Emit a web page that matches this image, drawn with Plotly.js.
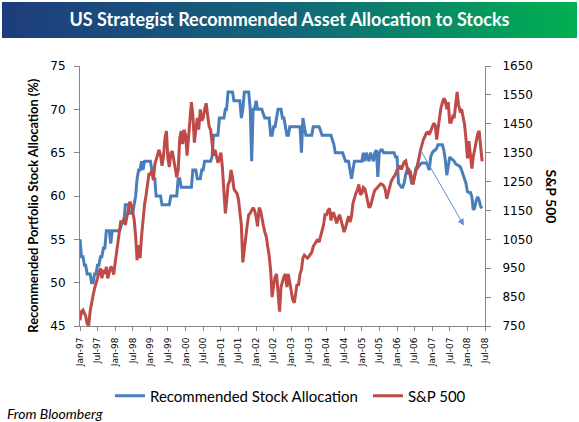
<!DOCTYPE html>
<html><head><meta charset="utf-8">
<script src="https://cdn.plot.ly/plotly-3.0.1.min.js"></script>
<style>
html,body{margin:0;padding:0;background:#fff;}
#wrap{position:relative;width:579px;height:422px;overflow:hidden;}
#banner{position:absolute;left:2px;top:2px;width:575px;height:36px;background:linear-gradient(to right,#1f3c7c 0%,#12667a 50%,#00b050 100%);}
#chart{position:absolute;left:0;top:0;width:579px;height:422px;}
</style></head><body>
<div id="wrap"><div id="banner"></div><div id="chart"></div></div>
<script>
// Semi-monthly samples (1st and 16th of each month), Jan-1997 .. Jun-2008
const startYear = 1997;
const seriesNames = ['Recommended Stock Allocation', 'S&P 500'];
const tickLabelFormat = '%b-%y';

const allocation = [
  55, 53, 53, 52, 52, 51, 51, 51, 50, 50, 51, 51, 52, 52, 53, 53, 54, 54, 56, 56, 56, 54.5, 56, 56,
  56, 56, 56, 56, 56.5, 57, 57, 59, 59, 59, 58, 58, 58, 59, 60, 62, 63, 63, 64, 63, 64, 64, 64, 64,
  64, 63, 62, 62, 60, 60, 60, 60, 59, 59, 59, 59, 59, 59, 60, 60, 60, 60, 60, 62, 62, 61, 61, 61,
  61, 61, 61, 61, 61, 63, 63, 63, 62, 62, 62, 63, 63, 64, 64, 64, 64, 64, 64.5, 67, 67, 67, 67, 69,
  69, 69, 69, 70, 70, 72, 72, 72, 72, 71, 71, 71, 71, 71, 69, 70, 72, 72, 72, 72, 70, 64, 70, 70,
  71, 70, 70, 70, 70, 69.5, 69, 69, 69, 69, 67, 67, 68, 68, 69, 70, 70, 70, 69, 69, 68, 67, 67, 68,
  68, 68, 68, 68, 68, 68, 68, 65, 69, 68, 67, 67, 67, 67, 67, 68, 68, 68, 68, 68, 67.5, 67, 67, 67,
  67, 67, 67, 67, 66.5, 66, 65, 65, 65, 65, 65, 65, 64.5, 64, 64, 64, 63, 62, 63, 64, 64, 64, 64, 64,
  64, 65, 64, 65, 64.5, 64, 65, 64.5, 64, 65, 65.3, 62.2, 65, 65.3, 65.3, 65, 65, 65, 65, 65, 65, 65, 65, 64.5,
  64.5, 61.5, 61.3, 61, 61, 61.5, 62.5, 63, 63.2, 62.2, 61.5, 61.5, 62.5, 63.2, 63.2, 63.5, 63.7, 63.8, 63.8, 63.8, 63.8, 63.5, 63, 64.5,
  65, 65.2, 65.3, 65.5, 65.9, 65.9, 65.9, 65.9, 65.3, 64.2, 62.4, 63.4, 64.5, 64.3, 64.2, 64, 63.7, 63.6, 63.5, 63.4, 63, 62.6, 62, 61.5,
  60.5, 60.4, 60.4, 59.9, 58.4, 58.6, 59.5, 59.9, 59.5, 58.8, 58.6
];

const spx = [
  770, 800, 805, 795, 785, 758, 752, 800, 835, 855, 880, 895, 915, 935, 950, 915, 945, 930, 955, 915, 935, 955, 950, 928,
  970, 1010, 1050, 1100, 1115, 1105, 1120, 1100, 1125, 1160, 1180, 1170, 1140, 1120, 1060, 978, 1030, 985, 1060, 1130, 1170, 1200, 1240, 1275,
  1275, 1290, 1255, 1310, 1325, 1345, 1360, 1340, 1305, 1335, 1400, 1425, 1330, 1300, 1350, 1355, 1320, 1290, 1265, 1290, 1400, 1425, 1380, 1430,
  1410, 1340, 1400, 1480, 1525, 1480, 1385, 1430, 1470, 1430, 1500, 1460, 1470, 1500, 1521, 1480, 1440, 1430, 1390, 1340, 1360, 1330, 1315, 1330,
  1350, 1300, 1210, 1140, 1180, 1240, 1250, 1290, 1265, 1225, 1215, 1210, 1190, 1150, 1100, 970, 1020, 1070, 1100, 1135, 1140, 1150, 1160, 1150,
  1128, 1095, 1160, 1150, 1120, 1100, 1075, 1060, 1025, 995, 940, 850, 890, 920, 930, 860, 800, 885, 905, 920, 930, 885, 930, 905,
  865, 840, 830, 860, 895, 890, 930, 945, 985, 995, 990, 985, 990, 1000, 1005, 1025, 1035, 1040, 1050, 1040, 1060, 1080, 1100, 1135,
  1135, 1150, 1157, 1115, 1140, 1140, 1125, 1105, 1125, 1135, 1115, 1095, 1075, 1090, 1110, 1130, 1110, 1130, 1175, 1195, 1210, 1220, 1240, 1205,
  1210, 1230, 1225, 1205, 1180, 1160, 1165, 1190, 1205, 1220, 1225, 1232, 1235, 1242, 1240, 1235, 1222, 1190, 1210, 1235, 1250, 1260, 1268, 1275,
  1290, 1295, 1305, 1292, 1305, 1318, 1322, 1300, 1275, 1288, 1260, 1240, 1265, 1285, 1300, 1330, 1358, 1378, 1395, 1405, 1418, 1420, 1412, 1425,
  1440, 1452, 1445, 1395, 1430, 1475, 1505, 1522, 1538, 1530, 1500, 1525, 1455, 1455, 1475, 1470, 1530, 1560, 1515, 1495, 1500, 1480, 1450, 1400,
  1330, 1390, 1330, 1295, 1335, 1360, 1390, 1415, 1425, 1365, 1320
];

function sampleDate(i) {
  const y = startYear + Math.floor(i / 24);
  const mo = Math.floor((i % 24) / 2) + 1;
  const d = (i % 2) ? 16 : 1;
  return y + '-' + String(mo).padStart(2, '0') + '-' + String(d).padStart(2, '0');
}
const dates = allocation.map((_, i) => sampleDate(i));

const blue = '#4A7EBB', red = '#BE4B48', axisGray = '#868686';

const traces = [
  {x: dates, y: allocation, name: seriesNames[0], type: 'scatter', mode: 'lines',
   line: {color: blue, width: 3}, yaxis: 'y', legendwidth: 213},
  {x: dates, y: spx, name: seriesNames[1], type: 'scatter', mode: 'lines',
   line: {color: red, width: 3}, yaxis: 'y2'}
];

const tickFont = {family: 'DejaVu Sans', size: 12, color: '#000'};

const layout = {
  width: 579, height: 422,
  margin: {l: 80, r: 94, t: 66, b: 96, autoexpand: false},
  paper_bgcolor: 'rgba(0,0,0,0)', plot_bgcolor: 'rgba(0,0,0,0)',
  showlegend: true,
  hovermode: false,
  title: {text: '<b>US Strategist Recommended Asset Allocation to Stocks</b>',
    font: {family: 'Lato', size: 18, color: '#ffffff'},
    x: 0.5, xref: 'container', xanchor: 'center', y: 1 - 20 / 422, yref: 'container', yanchor: 'middle'},
  xaxis: {type: 'date', range: ['1997-01-01', '2008-07-01'], tick0: '1997-01-01', dtick: 'M6',
    tickformat: tickLabelFormat, tickangle: -90, ticks: 'outside', ticklen: 4, tickcolor: axisGray,
    showline: true, linecolor: axisGray, linewidth: 1, showgrid: false, zeroline: false,
    tickfont: {family: 'DejaVu Sans', size: 9, color: '#000'}, automargin: false, ticklabelstandoff: 3},
  yaxis: {range: [45, 75], tick0: 45, dtick: 5, ticks: 'outside', ticklen: 5, tickcolor: axisGray,
    showline: true, linecolor: axisGray, showgrid: false, zeroline: false, tickfont: tickFont,
    automargin: false, ticklabelstandoff: 6},
  yaxis2: {overlaying: 'y', side: 'right', range: [750, 1650], tick0: 750, dtick: 100,
    ticks: 'outside', ticklen: 5, tickcolor: axisGray, showline: true, linecolor: axisGray,
    showgrid: false, zeroline: false, tickfont: tickFont, automargin: false, ticklabelstandoff: 9},
  legend: {orientation: 'h', x: 0.074, xanchor: 'left', y: -0.269, yanchor: 'middle',
    font: {family: 'Lato', size: 15, color: '#000'},
    bgcolor: 'rgba(0,0,0,0)', borderwidth: 0},
  annotations: [
    {text: '<b>Recommended Portfolio Stock Allocation (%)</b>', xref: 'paper', yref: 'paper',
     x: -0.117, y: 0.4615, xanchor: 'center', yanchor: 'middle', textangle: -90, showarrow: false,
     font: {family: 'Lato', size: 12.8, color: '#000'}},
    {text: '<b>S&P 500</b>', xref: 'paper', yref: 'paper', x: 1.1647, y: 0.499,
     xanchor: 'center', yanchor: 'middle', textangle: 90, showarrow: false,
     font: {family: 'Lato', size: 14, color: '#000'}},
    {text: '<i>From Bloomberg</i>', xref: 'paper', yref: 'paper', x: -0.184, y: -0.338,
     xanchor: 'left', yanchor: 'middle', showarrow: false,
     font: {family: 'Lato', size: 14, color: '#000'}},
    {text: '', xref: 'x', yref: 'y', x: '2007-11-25', y: 56.6, axref: 'x', ayref: 'y',
     ax: '2006-08-22', ay: 65.5, showarrow: true, arrowhead: 2, arrowsize: 1.3, arrowwidth: 1,
     arrowcolor: '#5b8fd0'}
  ]
};

Plotly.newPlot('chart', traces, layout, {staticPlot: true, displayModeBar: false});
</script></body></html>
